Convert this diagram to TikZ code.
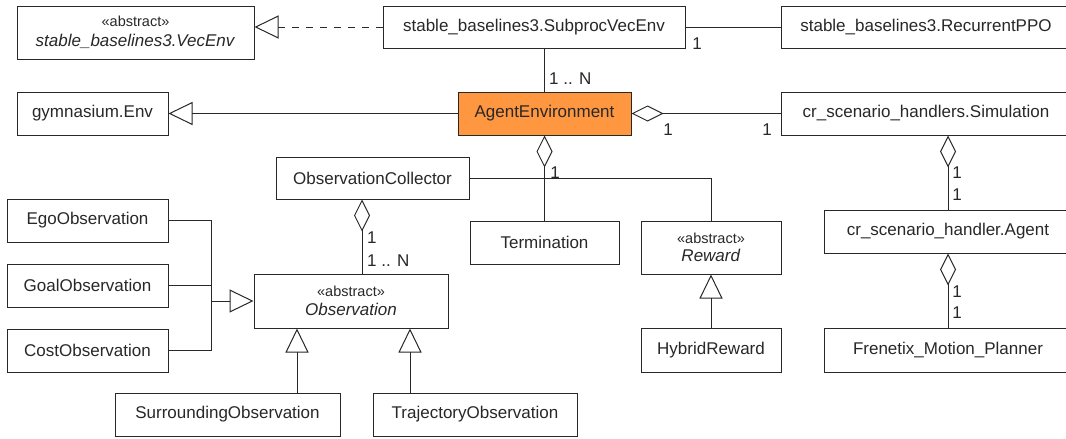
\documentclass[tikz,border=0pt]{standalone}
\usepackage{fontspec}
\setmainfont{Liberation Sans}
\usetikzlibrary{arrows.meta}
\definecolor{linec}{RGB}{40,40,40}
\definecolor{textc}{RGB}{40,40,40}
\definecolor{orangec}{RGB}{255,150,64}
\newcommand{\umlbox}[7][]{\node[umlbox,#1,minimum width={(#5-#3)*1pt},minimum height={(#6-#4)*1pt}] (#2) at ({(#3+#5)/2},{(#4+#6)/2}) {#7};}
\newcommand{\abs}{{\fontsize{14.5}{17}\selectfont «abstract»}}
\begin{document}
\begin{tikzpicture}[x=1pt,y=-1pt,
  umlbox/.style={draw=linec, line width=1pt, fill=white, inner sep=0pt, text=textc, font=\fontsize{17}{20}\selectfont, align=center},
  lbl/.style={text=textc, font=\fontsize{17}{20}\selectfont, inner sep=0pt},
  conn/.style={draw=linec, line width=1pt},
  gen/.style={conn, -{Triangle[open, length=24pt, width=23pt]}},
  agg/.style={conn, {Diamond[open, length=32pt, width=16pt]}-},
]
\useasboundingbox (0,0) rectangle (1066,439);
\clip (0,0) rectangle (1066,439);
\fill[white] (0,0) rectangle (1066,439);

% boxes
\umlbox{vecenv}{17}{6}{254}{59}{\abs\\\textit{stable\_baselines3.VecEnv}}
\umlbox{subproc}{383}{6}{685}{48}{stable\_baselines3.SubprocVecEnv}
\umlbox{ppo}{781}{6}{1071}{48}{stable\_baselines3.RecurrentPPO}
\umlbox{gym}{17}{92}{168}{135}{gymnasium.Env}
\umlbox[fill=orangec]{agentenv}{458}{92}{631}{135}{AgentEnvironment}
\umlbox{sim}{781}{92}{1071}{135}{cr\_scenario\_handlers.Simulation}
\umlbox{obscoll}{276}{157}{469}{199}{ObservationCollector}
\umlbox{termination}{470}{221}{619}{264}{Termination}
\umlbox[font=\fontsize{17}{18}\selectfont]{reward}{641}{221}{781}{274}{\abs\\\textit{Reward}}
\umlbox{agent}{824}{210}{1072}{253}{cr\_scenario\_handler.Agent}
\umlbox{ego}{7}{199}{168}{242}{EgoObservation}
\umlbox{goal}{7}{264}{168}{307}{GoalObservation}
\umlbox{cost}{7}{329}{168}{372}{CostObservation}
\umlbox[font=\fontsize{17}{19}\selectfont]{observation}{254}{274}{448}{328}{\abs\\\textit{Observation}}
\umlbox{hybrid}{641}{328}{781}{372}{HybridReward}
\umlbox{frenetix}{824}{328}{1072}{372}{Frenetix\_Motion\_Planner}
\umlbox{surrounding}{115}{393}{340}{436}{SurroundingObservation}
\umlbox{trajectory}{373}{393}{577}{436}{TrajectoryObservation}

% helper coordinates
\coordinate (ocx) at (362,0);
\coordinate (sx) at (297,0);
\coordinate (tx) at (410,0);
\coordinate (jx) at (211,301);

% connectors
\draw[gen, dash pattern=on 7pt off 7pt] (subproc.west) -- (subproc.west -| vecenv.east);
\draw[conn] (subproc.east) -- (ppo.west);
\draw[conn] (agentenv.north |- subproc.south) -- (agentenv.north);
\draw[gen] (agentenv.west) -- (gym.east);
\draw[agg] (agentenv.east) -- (sim.west);
\draw[agg] (agentenv.south) -- (termination.north);
\draw[conn] (obscoll.east) -| (reward.north);
\draw[agg] (obscoll.south -| ocx) -- (observation.north -| ocx);
\draw[conn] (ego.east) -| (jx);
\draw[conn] (cost.east) -| (jx);
\draw[conn] (goal.east) -- (goal.east -| jx);
\draw[gen] (jx) -- (observation.west);
\draw[gen] (surrounding.north -| sx) -- (observation.south -| sx);
\draw[gen] (trajectory.north -| tx) -- (observation.south -| tx);
\draw[gen] (hybrid.north) -- (reward.south);
\draw[agg] (sim.south -| agent.north) -- (agent.north);
\draw[agg] (agent.south) -- (frenetix.north);

% multiplicity labels
\node[lbl] (m1) at (697,44) {1};
\node[lbl, anchor=west] (m2) at (549,79) {1 .. N};
\node[lbl] (m3) at (668,130) {1};
\node[lbl] (m4) at (767,130) {1};
\node[lbl] (m5) at (555,173) {1};
\node[lbl, anchor=west] (m6) at (367,238) {1};
\node[lbl, anchor=west] (m7) at (367,261) {1 .. N};
\node[lbl] (m8) at (957,173) {1};
\node[lbl] (m9) at (957,195) {1};
\node[lbl] (m10) at (957,292) {1};
\node[lbl] (m11) at (957,313) {1};
\end{tikzpicture}
\end{document}
